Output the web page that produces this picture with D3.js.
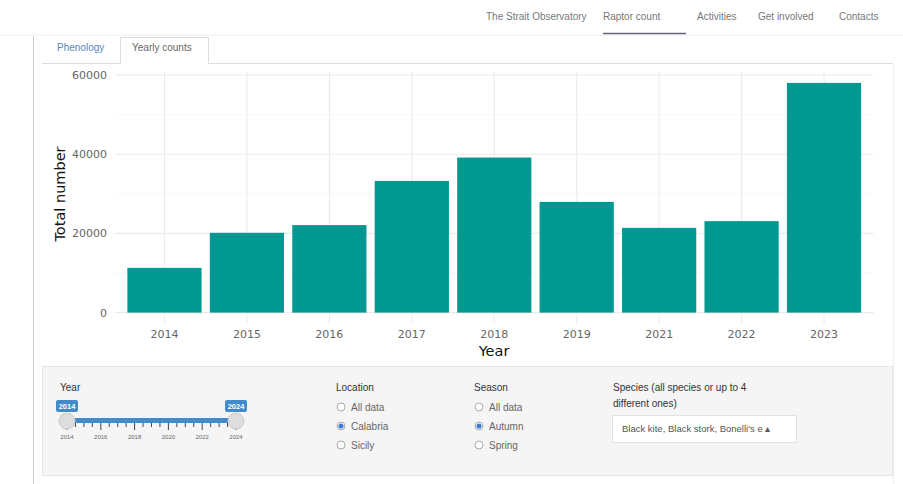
<!DOCTYPE html>
<html><head><meta charset="utf-8">
<script src="https://cdn.jsdelivr.net/npm/d3@7"></script>
<style>
html,body{margin:0;padding:0;background:#fff;}
svg{display:block;}
</style></head>
<body>
<svg id="c" width="903" height="484"></svg>
<script>
const years = ["2014","2015","2016","2017","2018","2019","2021","2022","2023"];
const totals = [11300, 20150, 22100, 33250, 39150, 27950, 21400, 23100, 58000];
const yTicks = [0, 20000, 40000, 60000];
const yMinor = [10000, 30000, 50000];
const navItems = ["The Strait Observatory","Raptor count","Activities","Get involved","Contacts"];
const sliderTicks = ["2014","2016","2018","2020","2022","2024"];
const locations = ["All data","Calabria","Sicily"];
const seasons = ["All data","Autumn","Spring"];

const svg = d3.select("#c");
const UI = "'Liberation Sans', Arial, sans-serif";
const CH = "'DejaVu Sans', sans-serif";

// ---- nav bar ----
const navX = [486, 603, 697, 758, 839];
svg.selectAll("text.nav").data(navItems).join("text")
  .attr("x",(d,i)=>navX[i]).attr("y",20).attr("font-family",UI).attr("font-size",10)
  .attr("fill","#777").text(d=>d);
svg.append("line").attr("x1",0).attr("x2",903).attr("y1",35).attr("y2",35).attr("stroke","#eee");
svg.append("line").attr("x1",603).attr("x2",686).attr("y1",33.5).attr("y2",33.5).attr("stroke","#667").attr("stroke-width",1.5);

// page frame
svg.append("line").attr("x1",33.5).attr("x2",33.5).attr("y1",36).attr("y2",484).attr("stroke","#ccc");
svg.append("line").attr("x1",893.5).attr("x2",893.5).attr("y1",64).attr("y2",484).attr("stroke","#eee");

// ---- tabs ----
svg.append("line").attr("x1",42).attr("x2",893).attr("y1",63.5).attr("y2",63.5).attr("stroke","#ddd");
svg.append("path").attr("d","M120.5,63.5 V37.5 H208.5 V63.5").attr("fill","#fff").attr("stroke","#ddd");
svg.append("line").attr("x1",121).attr("x2",208).attr("y1",63.5).attr("y2",63.5).attr("stroke","#fff").attr("stroke-width",1.5);
svg.append("text").attr("x",57).attr("y",51).attr("font-family",UI).attr("font-size",10).attr("fill","#5a85bd").text("Phenology");
svg.append("text").attr("x",132).attr("y",51).attr("font-family",UI).attr("font-size",10).attr("fill","#666").text("Yearly counts");

// ---- chart ----
const x = d3.scaleBand().domain(years).range([115, 873.5]).paddingInner(0.1).paddingOuter(0.15);
const y = d3.scaleLinear().domain([0, 60000]).range([312.6, 75]);
const yTop = y(60900), yBot = y(-2900);
const g = svg.append("g");
g.selectAll("line.minor").data(yMinor).join("line")
  .attr("x1",115).attr("x2",873.5).attr("y1",d=>y(d)).attr("y2",d=>y(d))
  .attr("stroke","#f2f2f2").attr("stroke-width",0.6);
g.selectAll("line.major").data(yTicks).join("line")
  .attr("x1",115).attr("x2",873.5).attr("y1",d=>y(d)).attr("y2",d=>y(d))
  .attr("stroke","#ebebeb").attr("stroke-width",1.1);
g.selectAll("line.vg").data(years).join("line")
  .attr("x1",d=>x(d)+x.bandwidth()/2).attr("x2",d=>x(d)+x.bandwidth()/2)
  .attr("y1",yTop).attr("y2",yBot).attr("stroke","#ebebeb").attr("stroke-width",1.1);
g.selectAll("rect.bar").data(years).join("rect")
  .attr("x",d=>x(d)).attr("width",x.bandwidth())
  .attr("y",(d,i)=>y(totals[i])).attr("height",(d,i)=>y(0)-y(totals[i]))
  .attr("fill","#009891");

// axes via d3 axis
const ya = svg.append("g").attr("transform","translate(110,0)")
  .call(d3.axisLeft(y).tickValues(yTicks).tickSize(0).tickPadding(3).tickFormat(d3.format("d")));
ya.select(".domain").remove();
ya.selectAll("text").attr("font-family",CH).attr("font-size",11).attr("fill","#666");
const xa = svg.append("g").attr("transform",`translate(0,${yBot})`)
  .call(d3.axisBottom(x).tickSize(0).tickPadding(6));
xa.select(".domain").remove();
xa.selectAll("text").attr("font-family",CH).attr("font-size",11).attr("fill","#666");

svg.append("text").attr("transform","translate(65,194) rotate(-90)").attr("text-anchor","middle")
  .attr("font-family",CH).attr("font-size",14.5).attr("fill","#111").text("Total number");
svg.append("text").attr("x",494).attr("y",356).attr("text-anchor","middle")
  .attr("font-family",CH).attr("font-size",14.5).attr("fill","#111").text("Year");

// ---- control panel ----
svg.append("rect").attr("x",42.5).attr("y",366.5).attr("width",850).attr("height",109)
  .attr("fill","#f5f5f5").attr("stroke","#e6e6e6");

svg.append("text").attr("x",60).attr("y",391).attr("font-family",UI).attr("font-size",10).attr("fill","#333").text("Year");
const sx = d3.scaleLinear().domain([2014, 2024]).range([67, 236]);
svg.append("rect").attr("x",sx(2014)).attr("y",418).attr("width",sx(2024)-sx(2014)).attr("height",5).attr("fill","#428bca");
const minorT = d3.range(2014, 2024.01, 0.5);
svg.selectAll("line.st").data(minorT).join("line")
  .attr("x1",d=>sx(d)).attr("x2",d=>sx(d)).attr("y1",423).attr("y2",d=>(d%2===0)?430:427)
  .attr("stroke","#444").attr("stroke-width",1);
svg.selectAll("text.stl").data(sliderTicks).join("text")
  .attr("x",d=>sx(+d)).attr("y",439).attr("text-anchor","middle")
  .attr("font-family",UI).attr("font-size",6).attr("fill","#666").text(d=>d);
[2014,2024].forEach(v=>{
  svg.append("circle").attr("cx",sx(v)).attr("cy",421).attr("r",8).attr("fill","#ddd").attr("stroke","#ccc");
  svg.append("rect").attr("x",sx(v)-11).attr("y",400).attr("width",22).attr("height",12).attr("rx",2).attr("fill","#428bca");
  svg.append("text").attr("x",sx(v)).attr("y",409).attr("text-anchor","middle").attr("font-family",UI)
    .attr("font-size",7.5).attr("fill","#fff").attr("font-weight","bold").text(v);
});

function radios(x0, title, items, sel){
  svg.append("text").attr("x",x0).attr("y",391).attr("font-family",UI).attr("font-size",10).attr("fill","#333").text(title);
  items.forEach((t,i)=>{
    const cy = 407 + i*19;
    svg.append("circle").attr("cx",x0+5).attr("cy",cy).attr("r",4).attr("fill","#fff").attr("stroke","#aaa");
    if(i===sel) svg.append("circle").attr("cx",x0+5).attr("cy",cy).attr("r",2.6).attr("fill","#3d7fd6");
    svg.append("text").attr("x",x0+15).attr("y",cy+3.5).attr("font-family",UI).attr("font-size",10).attr("fill","#666").text(t);
  });
}
radios(336, "Location", locations, 1);
radios(474, "Season", seasons, 1);

svg.append("text").attr("x",613).attr("y",391).attr("font-family",UI).attr("font-size",10).attr("fill","#333").text("Species (all species or up to 4");
svg.append("text").attr("x",613).attr("y",407).attr("font-family",UI).attr("font-size",10).attr("fill","#333").text("different ones)");
svg.append("rect").attr("x",612.5).attr("y",415.5).attr("width",184).attr("height",27).attr("fill","#fff").attr("stroke","#e0e0e0");
svg.append("text").attr("x",622).attr("y",432).attr("font-family",UI).attr("font-size",9.5).attr("fill","#555").text("Black kite, Black stork, Bonelli's e \u25B4");
</script>
</body></html>
